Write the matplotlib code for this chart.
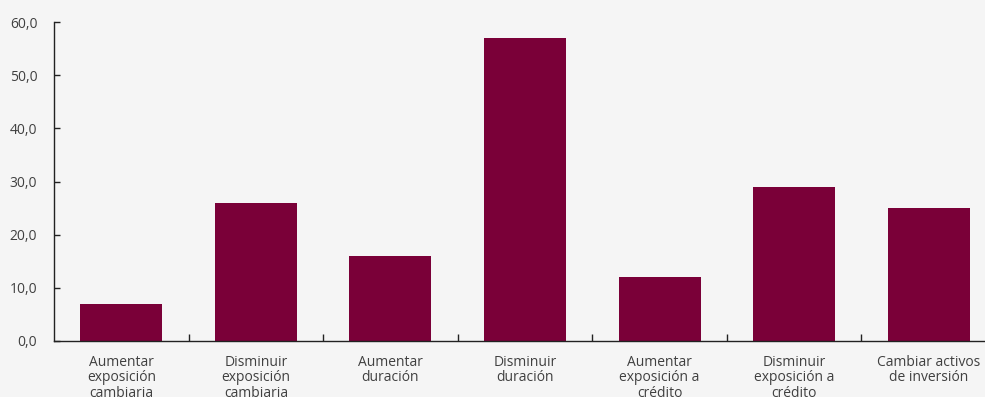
import matplotlib
matplotlib.use("Agg")
import matplotlib.pyplot as plt
from matplotlib.ticker import FixedLocator, NullFormatter

categories = [
    "Aumentar\nexposición\ncambiaria",
    "Disminuir\nexposición\ncambiaria",
    "Aumentar\nduración",
    "Disminuir\nduración",
    "Aumentar\nexposición a\ncrédito",
    "Disminuir\nexposición a\ncrédito",
    "Cambiar activos\nde inversión",
]
values = [7.0, 26.0, 16.0, 57.0, 12.0, 29.0, 25.0]
yticks = [0, 10, 20, 30, 40, 50, 60]
ytick_labels = ["0,0", "10,0", "20,0", "30,0", "40,0", "50,0", "60,0"]

bg = "#f5f5f5"
bar_color = "#7a0038"
text_color = "#404040"

plt.rcParams["font.family"] = ["Open Sans", "DejaVu Sans"]

fig = plt.figure(figsize=(9.85, 3.97), dpi=100, facecolor=bg)
ax = fig.add_axes([54 / 985, 56 / 397, 942 / 985, 319 / 397], facecolor=bg)

x = list(range(len(categories)))
ax.bar(x, values, width=0.61, color=bar_color, zorder=2)

ax.set_xlim(-0.5, len(categories) - 0.5)
ax.set_ylim(0, 60)

ax.set_yticks(yticks)
ax.set_yticklabels(ytick_labels, fontsize=10, color=text_color)
ax.tick_params(axis="y", direction="in", length=4, width=1, pad=12, color="#222222")

ax.set_xticks(x)
ax.set_xticklabels(categories, fontsize=10, color=text_color, linespacing=1.05)
ax.tick_params(axis="x", which="major", length=0, pad=10)
ax.xaxis.set_minor_locator(FixedLocator([i + 0.5 for i in range(len(categories) - 1)]))
ax.xaxis.set_minor_formatter(NullFormatter())
ax.tick_params(axis="x", which="minor", direction="in", length=5, width=1, color="#222222")

for side in ("top", "right"):
    ax.spines[side].set_visible(False)
for side in ("left", "bottom"):
    ax.spines[side].set_color("#222222")
    ax.spines[side].set_linewidth(1)

fig.savefig("out.png", dpi=100, facecolor=bg)
